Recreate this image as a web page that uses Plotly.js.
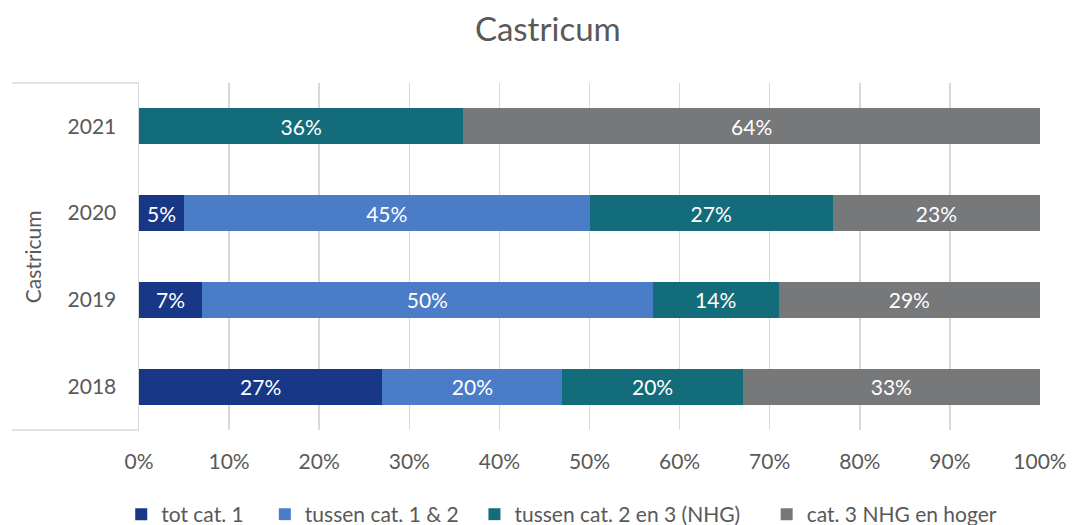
<!DOCTYPE html>
<html>
<head>
<meta charset="utf-8">
<script src="https://cdn.plot.ly/plotly-3.0.1.min.js"></script>
<style>
  html, body { margin: 0; padding: 0; background: #ffffff; }
  #chart { width: 1072px; height: 525px; }
</style>
</head>
<body>
<div id="chart"></div>
<script>
// Years on the category axis (bottom to top)
const years = ['2018', '2019', '2020', '2021'];

// Share per category, percent
const seriesNames = ['tot cat. 1', 'tussen cat. 1 & 2', 'tussen cat. 2 en 3 (NHG)', 'cat. 3 NHG en hoger'];
const totCat1 = [27, 7, 5, 0];
const tussenCat12 = [20, 50, 45, 0];
const tussenCat23 = [20, 14, 27, 36];
const cat3Hoger = [33, 29, 23, 64];

const xTickVals = [0, 10, 20, 30, 40, 50, 60, 70, 80, 90, 100];
const xTickText = ['0%', '10%', '20%', '30%', '40%', '50%', '60%', '70%', '80%', '90%', '100%'];

const colors = ['#183887', '#4a7cc7', '#136c79', '#77787a'];
const FONT = 'Lato, "Open Sans", sans-serif';
const TXT = '#595959';

// extra trailing space after each legend entry, in non-breaking spaces
const legendPad = [3, 2, 4, 0];

const seriesValues = [totCat1, tussenCat12, tussenCat23, cat3Hoger];
const traces = seriesValues.map((vals, i) => ({
  type: 'bar',
  orientation: 'h',
  name: seriesNames[i] + '\u00a0'.repeat(legendPad[i]),
  y: years,
  x: vals,
  text: vals.map(v => v > 0 ? v + '%' : ''),
  textposition: 'inside',
  insidetextanchor: 'middle',
  constraintext: 'none',
  textfont: { family: FONT, size: 21, color: '#ffffff' },
  marker: { color: colors[i], line: { width: 0 } },
  hoverinfo: 'skip'
}));

const gridColor = '#d9d9d9';

const layout = {
  width: 1072,
  height: 525,
  barmode: 'stack',
  bargap: 0.585,
  paper_bgcolor: '#ffffff',
  plot_bgcolor: '#ffffff',
  margin: { l: 139, r: 32, t: 83, b: 95 },
  font: { family: FONT, color: TXT },
  title: {
    text: 'Castricum',
    font: { family: FONT, size: 33, color: TXT },
    x: 0.511, xanchor: 'center',
    yref: 'container',
    y: 0.943, yanchor: 'middle'
  },
  xaxis: {
    range: [0, 100],
    tickvals: xTickVals,
    ticktext: xTickText,
    tickfont: { family: FONT, size: 21, color: TXT },
    showgrid: true,
    gridcolor: gridColor,
    gridwidth: 1.5,
    zeroline: false,
    showline: false,
    ticks: '',
    ticklabelstandoff: 17,
    fixedrange: true
  },
  yaxis: {
    type: 'category',
    categoryorder: 'array',
    categoryarray: years,
    range: [-0.5, 3.5],
    tickfont: { family: FONT, size: 21, color: TXT },
    showgrid: false,
    zeroline: false,
    showline: true,
    linecolor: gridColor,
    linewidth: 1.5,
    ticks: '',
    ticklabelstandoff: 17,
    fixedrange: true
  },
  showlegend: true,
  legend: {
    orientation: 'h',
    xref: 'container',
    yref: 'container',
    x: 0.524, xanchor: 'center',
    y: 0.02, yanchor: 'middle',
    font: { family: FONT, size: 21, color: TXT },
    traceorder: 'normal',
    itemwidth: 30,
    tracegroupgap: 0
  },
  shapes: [
    // bracket lines around the group label on the category axis
    { type: 'line', xref: 'paper', yref: 'paper', x0: -0.141, x1: 0, y0: 1, y1: 1,
      line: { color: gridColor, width: 1.5 } },
    { type: 'line', xref: 'paper', yref: 'paper', x0: -0.141, x1: 0, y0: 0, y1: 0,
      line: { color: gridColor, width: 1.5 } }
  ],
  annotations: [
    { text: 'Castricum', xref: 'paper', yref: 'paper', x: -0.118, y: 0.5,
      textangle: -90, showarrow: false, xanchor: 'center', yanchor: 'middle',
      font: { family: FONT, size: 21, color: TXT } }
  ]
};

Plotly.newPlot('chart', traces, layout, { displayModeBar: false, staticPlot: true });
</script>
</body>
</html>
